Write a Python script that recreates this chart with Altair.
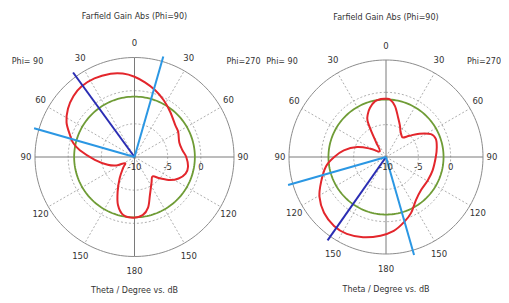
import altair as alt
import pandas as pd
import numpy as np

# ---------------- data ----------------
CHART_TITLE = "Farfield Gain Abs (Phi=90)"
AXIS_TITLE = "Theta / Degree vs. dB"
SIDE_LABELS = ["Phi= 90", "Phi=270"]
ANGLE_TICKS = [0, 30, 60, 90, 120, 150, 180, 210, 240, 270, 300, 330]
ANGLE_TEXT = ["0", "30", "60", "90", "120", "150", "180", "150", "120", "90", "60", "30"]
RADIAL_TICKS = [-10, -5, 0]
RADIAL_TEXT = ["-10", "-5", "0"]
DB_MIN, DB_MAX = -10, 5

# angle measured clockwise from the top (0..360); 180..360 is the Phi=90 side
left_angle = [0, 8, 17, 27, 38, 52, 60, 72, 82, 90, 100, 108, 116, 123, 130, 137, 146,
              158, 165, 172, 181, 191, 199, 206, 215, 226, 237, 245, 254, 266, 277,
              283, 289, 297, 306, 315, 323, 333, 344, 352]
left_gain = [2.1, 1.35, 0.55, -0.35, -1.3, -2.2, -2.4, -2.9, -2.7, -2.2, -1.8, -1.9, -2.6,
             -3.6, -5.0, -6.0, -5.4, -3.8, -2.1, -1.15, -0.85, -1.1, -2.35, -4.2, -6.1,
             -7.6, -8.3, -7.0, -5.8, -4.0, -1.7, -0.5, 0.3, 1.5, 2.4, 3.0, 3.3, 3.3,
             3.05, 2.7]

right_angle = [0, 4, 10, 17, 24, 29, 36, 41, 48, 55, 63, 70, 79, 90, 106, 119, 133, 145,
               156, 165, 174, 184, 196, 207, 217, 228, 239, 249, 261, 270, 279, 289, 298,
               312, 326, 330, 333, 337, 342, 349, 355]
right_gain = [-1.0, -1.1, -2.0, -3.6, -4.7, -5.4, -5.9, -6.0, -5.1, -3.7, -2.2, -1.8, -2.0,
              -2.3, -2.5, -2.6, -2.55, -1.9, -0.5, 0.5, 1.5, 2.2, 2.9, 3.35, 3.35, 2.9,
              2.0, 0.75, -0.6, -2.0, -3.4, -5.3, -7.25, -8.7, -7.3, -5.6, -3.7, -2.8,
              -2.0, -1.2, -1.0]

green_db = [-0.9, -1.1]          # green reference circle per plot
main_dir = [324, 215]            # main lobe direction (dark blue)
beam_a = [16, 164]               # 3 dB beam edges (light blue)
beam_b = [286, 254]

# ---------------- layout (pixel-like units) ----------------
RAD = [99.5, 97.0]
CX = [134.5, 386.0]
CY = [-157.0, -157.0]
XS = alt.Scale(domain=[8, 501], nice=False, zero=False)
YS = alt.Scale(domain=[-295, -8], nice=False, zero=False)
FONT = "DejaVu Sans"
TXT = "#333333"

RR = f"(datum.db - ({DB_MIN})) / ({DB_MAX} - ({DB_MIN})) * datum.R"


def base(p):
    return dict(plot=p, cx=CX[p], cy=CY[p], R=RAD[p])


def polar(ch, rr=RR):
    return ch.transform_calculate(rr=rr).transform_calculate(
        px="datum.cx + datum.rr * sin(datum.angle * PI / 180)",
        py="datum.cy + datum.rr * cos(datum.angle * PI / 180)",
    )


XE = alt.X("px:Q", scale=XS, axis=None)
YE = alt.Y("py:Q", scale=YS, axis=None)

# curves
curve_rows = []
for p, (angs, gains) in enumerate([(left_angle, left_gain), (right_angle, right_gain)]):
    for a, g in zip(angs, gains):
        curve_rows.append(dict(base(p), angle=a, db=g))
curves = pd.DataFrame(curve_rows)

# circles (grid, outer, green)
circ_rows = []
circ_angles = np.arange(0, 361, 2)
for p in range(2):
    for kind, lev in [("grid", -5), ("grid", 0), ("outer", DB_MAX), ("green", green_db[p])]:
        for a in circ_angles:
            circ_rows.append(dict(base(p), angle=float(a), db=lev,
                                  kind=kind, key=f"{p}-{kind}-{lev}"))
circles = pd.DataFrame(circ_rows)

spokes = pd.DataFrame([dict(base(p), angle=a) for p in range(2)
                       for a in [30, 60, 120, 150, 210, 240, 300, 330]])
axes_df = pd.DataFrame([dict(base(p), angle=a) for p in range(2) for a in [0, 90]])

blue_rows = []
for p in range(2):
    blue_rows.append(dict(base(p), angle=main_dir[p], kind="main"))
    blue_rows.append(dict(base(p), angle=beam_a[p], kind="beam"))
    blue_rows.append(dict(base(p), angle=beam_b[p], kind="beam"))
blues = pd.DataFrame(blue_rows)

alabels = pd.DataFrame([dict(base(p), angle=a, text=t) for p in range(2)
                        for a, t in zip(ANGLE_TICKS, ANGLE_TEXT)])
rlabels = pd.DataFrame([dict(base(p), db=d, text=t) for p in range(2)
                        for d, t in zip(RADIAL_TICKS, RADIAL_TEXT)])

misc = pd.DataFrame([
    dict(px=CX[0] - 107, py=-62, text=SIDE_LABELS[0]),
    dict(px=CX[0] + 109, py=-62, text=SIDE_LABELS[1]),
    dict(px=CX[1] - 104, py=-62, text=SIDE_LABELS[0]),
    dict(px=CX[1] + 98, py=-62, text=SIDE_LABELS[1]),
    dict(px=CX[0], py=-16.5, text=CHART_TITLE),
    dict(px=CX[1], py=-18, text=CHART_TITLE),
    dict(px=CX[0], py=-290.5, text=AXIS_TITLE),
    dict(px=CX[1], py=-289.5, text=AXIS_TITLE),
])


def spoke_xy(ch, k_in, k_out):
    return ch.transform_calculate(
        x1=f"datum.cx + {k_in} * datum.R * sin(datum.angle * PI / 180)",
        y1=f"datum.cy + {k_in} * datum.R * cos(datum.angle * PI / 180)",
        x2=f"datum.cx + {k_out} * datum.R * sin(datum.angle * PI / 180)",
        y2=f"datum.cy + {k_out} * datum.R * cos(datum.angle * PI / 180)",
    )


RULE_ENC = dict(x=alt.X("x1:Q", scale=XS, axis=None), y=alt.Y("y1:Q", scale=YS, axis=None),
                x2="x2:Q", y2="y2:Q")

# ---------------- layers ----------------
grid = polar(alt.Chart(circles).transform_filter("datum.kind == 'grid'")).mark_line(
    color="#9a9a9a", strokeWidth=0.8, strokeDash=[2, 2]
).encode(x=XE, y=YE, detail="key:N", order="angle:Q")

outer = polar(alt.Chart(circles).transform_filter("datum.kind == 'outer'")).mark_line(
    color="#8c8c8c", strokeWidth=1
).encode(x=XE, y=YE, detail="key:N", order="angle:Q")

spoke = spoke_xy(alt.Chart(spokes), 0, 1).mark_rule(
    color="#9a9a9a", strokeWidth=0.8, strokeDash=[2, 2]).encode(**RULE_ENC)

axl = spoke_xy(alt.Chart(axes_df), -1, 1).mark_rule(
    color="#7a7a7a", strokeWidth=1).encode(**RULE_ENC)

green = polar(alt.Chart(circles).transform_filter("datum.kind == 'green'")).mark_line(
    color="#6f9c36", strokeWidth=1.8
).encode(x=XE, y=YE, detail="key:N", order="angle:Q")

red = polar(alt.Chart(curves)).mark_line(
    color="#e3262c", strokeWidth=2, interpolate="cardinal-closed"
).encode(x=XE, y=YE, detail="plot:N", order="angle:Q")

blue = spoke_xy(alt.Chart(blues), 0, 1.05).mark_rule(strokeWidth=2).encode(
    **RULE_ENC,
    color=alt.Color("kind:N", scale=alt.Scale(domain=["main", "beam"],
                                              range=["#2a2db3", "#2b97e3"]), legend=None))

alab = alt.Chart(alabels).transform_calculate(
    px="datum.cx + (datum.R + 9) * sin(datum.angle * PI / 180)",
    py="datum.cy + (datum.R + 14.5) * cos(datum.angle * PI / 180)",
).mark_text(font=FONT, fontSize=8.5, color=TXT, align="center", baseline="middle").encode(
    x=XE, y=YE, text="text:N")

rlab = alt.Chart(rlabels).transform_calculate(
    px=f"datum.cx + {RR}", py="datum.cy - 10"
).mark_text(font=FONT, fontSize=8.5, color=TXT, align="center", baseline="middle").encode(
    x=XE, y=YE, text="text:N")

mtext = alt.Chart(misc).mark_text(
    font=FONT, fontSize=8, color=TXT, align="center", baseline="middle"
).encode(x=XE, y=YE, text="text:N")

chart = alt.layer(grid, spoke, axl, outer, green, red, blue, alab, rlab, mtext).properties(
    width=493, height=287, padding=0, autosize="none", background="white"
).configure_view(stroke=None)

chart.save("out.html", embed_options={"renderer": "svg", "actions": False})
